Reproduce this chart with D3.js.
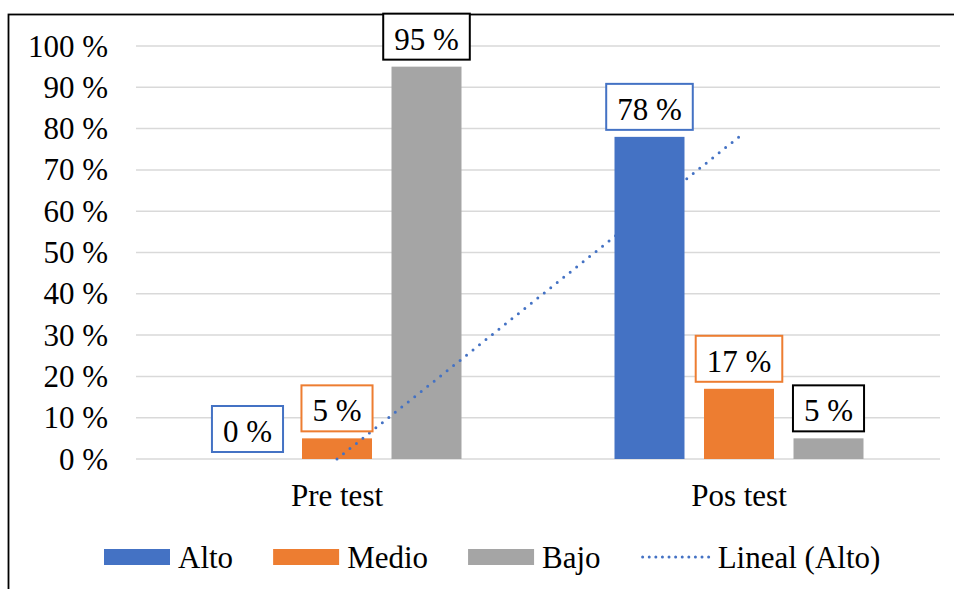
<!DOCTYPE html>
<html>
<head>
<meta charset="utf-8">
<script src="https://cdn.jsdelivr.net/npm/d3@7"></script>
<style>
  body { margin: 0; background: #fff; }
  svg { display: block; font-family: "Liberation Serif", "Times New Roman", serif; }
</style>
</head>
<body>
<svg id="chart"></svg>
<script>
// data
var categories = ["Pre test", "Pos test"]
var series = ["Alto", "Medio", "Bajo"]
var alto = [0, 78]
var medio = [5, 17]
var bajo = [95, 5]
var yTicks = [0, 10, 20, 30, 40, 50, 60, 70, 80, 90, 100]
var trendLabel = "Lineal (Alto)"

var width = 954, height = 589
var colors = {Alto: "#4472C4", Medio: "#ED7D31", Bajo: "#A5A5A5"}
var boxColors = {Alto: "#4472C4", Medio: "#ED7D31", Bajo: "#000000"}
var values = {Alto: alto, Medio: medio, Bajo: bajo}
var fontSize = 31

var svg = d3.select("#chart").attr("width", width).attr("height", height)

// outer frame (only top and left edges fall inside the picture)
svg.append("rect")
    .attr("x", 8.5).attr("y", 14.5)
    .attr("width", 1200).attr("height", 1200)
    .attr("fill", "none").attr("stroke", "#000").attr("stroke-width", 1.8)

var x0 = d3.scaleBand().domain(categories).range([136, 940]).padding(0)
var x1 = d3.scaleBand().domain(series)
    .range([(x0.bandwidth() - 249) / 2, (x0.bandwidth() + 249) / 2])
    .paddingInner(0.218)
var y = d3.scaleLinear().domain([0, 100]).range([459, 46])

// grid lines
svg.append("g")
    .selectAll("line")
    .data(yTicks)
    .enter()
    .append("line")
      .attr("x1", 136).attr("x2", 940)
      .attr("y1", function(d){ return y(d) })
      .attr("y2", function(d){ return y(d) })
      .attr("stroke", "#D9D9D9").attr("stroke-width", 1.5)

// y tick labels
svg.append("g")
    .selectAll("text")
    .data(yTicks)
    .enter()
    .append("text")
      .attr("x", 108)
      .attr("y", function(d){ return y(d) })
      .attr("dy", "0.34em")
      .attr("text-anchor", "end")
      .attr("font-size", fontSize + "px")
      .text(function(d){ return d + " %" })

// category labels
svg.append("g")
    .selectAll("text")
    .data(categories)
    .enter()
    .append("text")
      .attr("x", function(d){ return x0(d) + x0.bandwidth() / 2 })
      .attr("y", 506)
      .attr("text-anchor", "middle")
      .attr("font-size", fontSize + "px")
      .text(function(d){ return d })

function drawBars(name) {
    svg.append("g")
        .selectAll("rect")
        .data(categories)
        .enter()
        .append("rect")
          .attr("x", function(d){ return x0(d) + x1(name) })
          .attr("y", function(d, i){ return y(values[name][i]) })
          .attr("width", x1.bandwidth())
          .attr("height", function(d, i){ return y(0) - y(values[name][i]) })
          .attr("fill", colors[name])
}

drawBars("Medio")
drawBars("Bajo")

// linear trendline for Alto (through the group centres)
var trend = svg.append("line")
    .attr("x1", x0(categories[0]) + x0.bandwidth() / 2)
    .attr("y1", y(alto[0]))
    .attr("x2", x0(categories[1]) + x0.bandwidth() / 2)
    .attr("y2", y(alto[1]))
    .attr("stroke", colors.Alto)
    .attr("stroke-width", 3)
    .attr("stroke-linecap", "round")
    .attr("stroke-dasharray", "0 8.3")

drawBars("Alto")

// data labels with boxes
series.forEach(function(name) {
    categories.forEach(function(cat, i) {
        var v = values[name][i]
        var cx = x0(cat) + x1(name) + x1.bandwidth() / 2
        var bottom = y(v) - 7
        var g = svg.append("g")
        var rect = g.append("rect")
        var t = g.append("text")
            .attr("x", cx)
            .attr("y", bottom - 10)
            .attr("text-anchor", "middle")
            .attr("font-size", fontSize + "px")
            .text(v + " %")
        var w = t.node().getComputedTextLength() + 22
        rect.attr("x", cx - w / 2).attr("y", bottom - 46)
            .attr("width", w).attr("height", 46)
            .attr("fill", "#fff")
            .attr("stroke", boxColors[name]).attr("stroke-width", 2)
    })
})

// legend
var legend = svg.append("g")
var lx = 104, ly = 557
series.forEach(function(name) {
    legend.append("rect")
        .attr("x", lx).attr("y", ly - 8)
        .attr("width", 66).attr("height", 16)
        .attr("fill", colors[name])
    var t = legend.append("text")
        .attr("x", lx + 74).attr("y", ly + 11)
        .attr("font-size", fontSize + "px")
        .text(name)
    lx = lx + 74 + t.node().getComputedTextLength() + 40
})
legend.append("line")
    .attr("x1", lx + 2).attr("x2", lx + 68)
    .attr("y1", ly).attr("y2", ly)
    .attr("stroke", colors.Alto)
    .attr("stroke-width", 3)
    .attr("stroke-linecap", "round")
    .attr("stroke-dasharray", "0 6.6")
legend.append("text")
    .attr("x", lx + 77).attr("y", ly + 11)
    .attr("font-size", fontSize + "px")
    .text(trendLabel)
</script>
</body>
</html>
